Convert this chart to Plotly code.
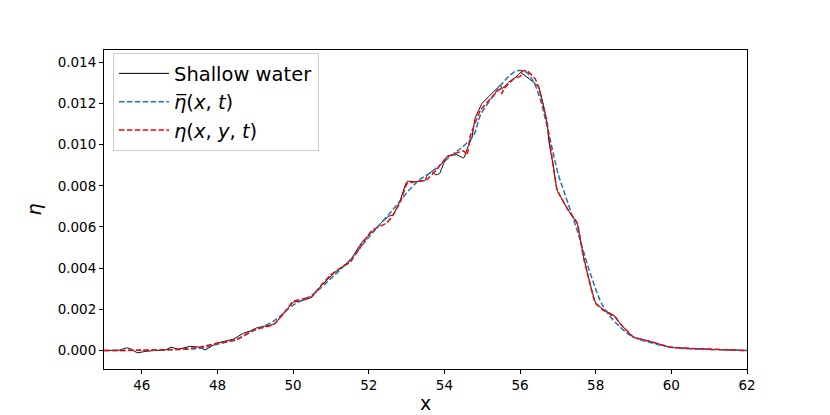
import plotly.graph_objects as go

# shallow water solution (black)
sw_x = [45.00, 45.42, 45.60, 45.71, 45.88, 46.08, 46.35, 46.61, 46.77, 46.96, 47.28, 47.54, 47.67,
        47.98, 48.42, 48.69, 48.86, 49.04, 49.44, 49.52, 49.74, 50.01, 50.19, 50.49, 50.71, 51.11,
        51.51, 51.73, 51.86, 52.08, 52.35, 52.52, 52.65, 52.83, 53.01, 53.23, 53.49, 53.54, 53.67,
        53.76, 53.87, 53.96, 54.07, 54.33, 54.51, 54.60, 54.73, 54.81, 54.99, 55.03, 55.48, 55.52,
        55.70, 55.87, 56.01, 56.49, 56.71, 56.76, 56.89, 56.98, 57.28, 57.51, 57.68, 57.99, 58.17,
        58.52, 58.65, 59.00, 59.44, 59.97, 60.76, 62.00]
sw_eta = [0.0, 0.00002, 0.00013, 0.00007, -0.00011, -0.00005, 0.0, 0.00001, 0.00016, 0.00006, 0.0002,
          0.00015, 0.00003, 0.00035, 0.00055, 0.00084, 0.00094, 0.0011, 0.00125, 0.0013, 0.00178,
          0.00235, 0.0024, 0.00259, 0.00308, 0.0038, 0.00437, 0.00502, 0.00535, 0.00575, 0.00624,
          0.00651, 0.00661, 0.00729, 0.00821, 0.00821, 0.00826, 0.0085, 0.0087, 0.00854, 0.00859,
          0.00899, 0.00944, 0.00951, 0.00935, 0.0098, 0.01037, 0.01128, 0.01199, 0.01207, 0.01288,
          0.01272, 0.01304, 0.01325, 0.0135, 0.0128, 0.0111, 0.0102, 0.00883, 0.00778, 0.0068,
          0.00616, 0.00453, 0.00235, 0.00203, 0.00165, 0.0013, 0.00065, 0.00044, 0.00016, 0.00008, 0.0]

# averaged elevation (blue)
avg_x = [45.0, 46.0, 47.0, 47.5, 48.0, 48.5, 49.0, 49.5, 50.0, 50.5, 51.0, 51.5, 52.0, 52.57, 53.27,
         53.71, 54.24, 54.42, 54.77, 54.95, 55.30, 55.56, 55.87, 56.01, 56.18, 56.36, 56.53, 56.75,
         57.02, 57.15, 57.51, 57.86, 58.21, 58.65, 59.00, 59.44, 59.97, 60.76, 62.0]
avg_eta = [0.0, 0.00001, 0.00005, 0.0001, 0.0003, 0.00055, 0.001, 0.00145, 0.0022, 0.0027, 0.0035,
           0.0044, 0.0055, 0.0067, 0.00818, 0.00875, 0.00956, 0.0098, 0.01045, 0.01142, 0.0124,
           0.01304, 0.01356, 0.0136, 0.0135, 0.01304, 0.01223, 0.01061, 0.0085, 0.00778, 0.00583,
           0.00373, 0.0021, 0.00113, 0.00065, 0.00039, 0.00016, 0.00006, 0.0]

# full 2d elevation (red)
full_x = [45.0, 46.0, 47.0, 47.54, 47.98, 48.51, 48.95, 49.48, 49.74, 50.01, 50.49, 50.71, 50.98,
          51.24, 51.51, 51.77, 52.08, 52.48, 52.65, 52.83, 53.01, 53.23, 53.54, 53.80, 54.07, 54.33,
          54.51, 54.60, 54.68, 54.95, 55.48, 55.52, 55.58, 55.83, 56.01, 56.05, 56.18, 56.40, 56.49,
          56.71, 56.89, 56.98, 57.28, 57.51, 57.68, 57.99, 58.17, 58.52, 58.65, 59.00, 59.44, 59.97,
          60.76, 62.0]
full_eta = [0.0, 0.00001, 0.00006, 0.00016, 0.00035, 0.00052, 0.001, 0.00125, 0.00178, 0.0024, 0.0026,
            0.0031, 0.00365, 0.004, 0.0043, 0.005, 0.00583, 0.0062, 0.0066, 0.0072, 0.0081, 0.0082,
            0.0083, 0.0088, 0.0094, 0.0096, 0.0097, 0.0095, 0.0104, 0.01166, 0.01272, 0.01248,
            0.01273, 0.0132, 0.01333, 0.01356, 0.0136, 0.0132, 0.0128, 0.0111, 0.0088, 0.0078,
            0.0068, 0.0062, 0.0045, 0.0023, 0.002, 0.0016, 0.0013, 0.00065, 0.00044, 0.00016,
            0.00008, 0.0]

x_ticks = [46, 48, 50, 52, 54, 56, 58, 60, 62]
y_ticks = [0.0, 0.002, 0.004, 0.006, 0.008, 0.010, 0.012, 0.014]

fig = go.Figure()
fig.add_trace(go.Scatter(x=sw_x, y=sw_eta, mode="lines", name="Shallow water",
                         line=dict(color="black", width=1, shape="spline", smoothing=0.3)))
fig.add_trace(go.Scatter(x=avg_x, y=avg_eta, mode="lines", name="<i>η̅</i>(<i>x</i>, <i>t</i>)",
                         line=dict(color="#1f77b4", width=1.5, dash="5.5px,2.4px", shape="spline")))
fig.add_trace(go.Scatter(x=full_x, y=full_eta, mode="lines",
                         name="<i>η</i>(<i>x</i>, <i>y</i>, <i>t</i>)",
                         line=dict(color="red", width=1.5, dash="5.5px,2.4px", shape="spline", smoothing=0.3)))

axis_style = dict(showline=True, linecolor="black", linewidth=1, mirror=True, showgrid=False,
                  zeroline=False, ticks="outside", ticklen=4, tickcolor="black",
                  tickfont=dict(family="DejaVu Sans", size=13.5, color="black"))

# page body adds an 8px offset, so margins are shifted to keep the plot box in place
fig.update_layout(
    width=830, height=415,
    margin=dict(l=96, r=91, t=42, b=54),
    plot_bgcolor="white", paper_bgcolor="white",
    font=dict(family="DejaVu Sans", color="black"),
    xaxis=dict(range=[45, 62], tickvals=x_ticks,
               title=dict(text="x", font=dict(size=19), standoff=4), **axis_style),
    yaxis=dict(range=[-0.0009, 0.0146], tickvals=y_ticks, tickformat=".3f",
               title=dict(text="<i>η</i>", font=dict(size=19), standoff=10), **axis_style),
    legend=dict(x=0.014, y=0.99, xanchor="left", yanchor="top", bgcolor="white",
                bordercolor="#cccccc", borderwidth=1, font=dict(size=19.5),
                itemwidth=50),
    showlegend=True,
)

fig.write_html("out.html")
